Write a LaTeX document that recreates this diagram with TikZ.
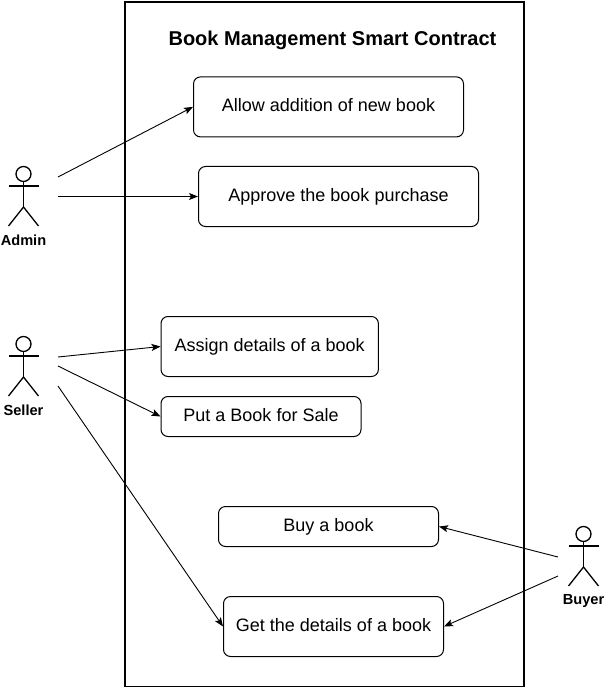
\documentclass[tikz,border=0pt]{standalone}
\usepackage{fontspec}
\setmainfont{Liberation Sans}
\usetikzlibrary{arrows.meta}
\tikzset{
  usecase/.style={draw=black,line width=1pt,rounded corners=7pt,fill=white,font=\fontsize{18}{20}\selectfont,inner sep=0pt,text height=13pt,text depth=4pt,anchor=north west},
  conn/.style={draw=black,line width=0.9pt,-{Stealth[length=9pt,width=7pt,inset=2pt]}},
  actorlabel/.style={font=\bfseries\fontsize{14.6}{16}\selectfont,inner sep=0pt},
  actorline/.style={draw=black,line width=1.3pt},
  pics/actor/.style={code={
    \draw[actorline] (0,0) circle (7.5);
    \draw[actorline] (0,7.5) -- (0,33);
    \draw[actorline] (-15,12) -- (15,12);
    \draw[actorline] (-15,52) -- (0,33) -- (15,52);
  }}
}
\begin{document}
\begin{tikzpicture}[x=1pt,y=-1pt]
\useasboundingbox (0,0) rectangle (604,687);
\fill[white] (0,0) rectangle (604,687);
\node[draw=black,line width=2pt,minimum width=399pt,minimum height=685pt,inner sep=0pt,anchor=north west] (frame) at (124.2,0.6) {};
\node[font=\bfseries\fontsize{20}{22}\selectfont,inner sep=0pt] (title) at (332.5,40.3) {Book Management Smart Contract};

\node[usecase,minimum width=270pt,minimum height=60pt] (addbook) at (193,76.4) {Allow addition of new book};
\node[usecase,minimum width=280pt,minimum height=60pt] (approve) at (198,166) {Approve the book purchase};
\node[usecase,minimum width=217.4pt,minimum height=60pt] (assign) at (160.5,316) {Assign details of a book};
\node[usecase,minimum width=200pt,minimum height=40pt] (sale) at (160.5,396) {Put a Book for Sale};
\node[usecase,minimum width=220pt,minimum height=40pt] (buy) at (218,506) {Buy a book};
\node[usecase,minimum width=220pt,minimum height=60pt] (details) at (223,596) {Get the details of a book};

\pic at (23.5,174) {actor};
\pic at (23.5,344) {actor};
\pic at (583.5,534) {actor};
\node[actorlabel] (admin) at (23.5,240.5) {Admin};
\node[actorlabel] (seller) at (23.5,410.5) {Seller};
\node[actorlabel] (buyer) at (583.5,600.5) {Buyer};

\coordinate (a1) at (58,177);
\coordinate (a2) at (58,196.5);
\coordinate (s1) at (58,357);
\coordinate (s2) at (58,366);
\coordinate (s3) at (58,386);
\coordinate (b1) at (558,557);
\coordinate (b2) at (558,576);

\draw[conn] (a1) -- (addbook.west);
\draw[conn] (a2) -- (approve.west);
\draw[conn] (s1) -- (assign.west);
\draw[conn] (s2) -- (sale.west);
\draw[conn] (s3) -- (details.west);
\draw[conn] (b1) -- (buy.east);
\draw[conn] (b2) -- (details.east);
\end{tikzpicture}
\end{document}
